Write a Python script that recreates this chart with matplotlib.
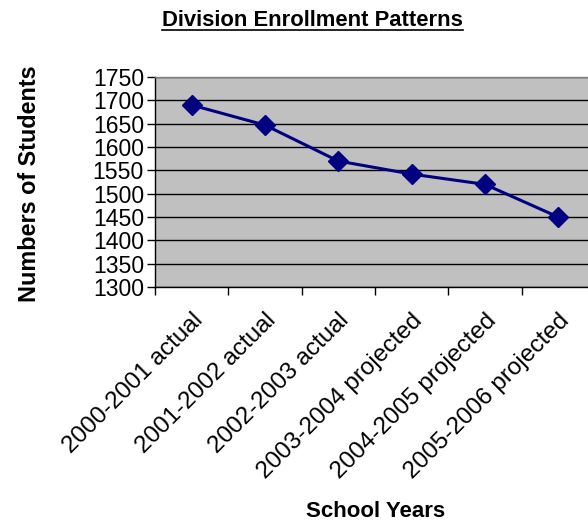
import matplotlib
matplotlib.use('Agg')
import matplotlib.pyplot as plt
from matplotlib.lines import Line2D
import numpy as np

plt.rcParams['font.family'] = ['Liberation Sans', 'DejaVu Sans']

# Dados
anos = ['2000-2001 actual', '2001-2002 actual', '2002-2003 actual',
        '2003-2004 projected', '2004-2005 projected', '2005-2006 projected']
alunos = [1690, 1647, 1570, 1542, 1520, 1450]
y_ticks = [1300, 1350, 1400, 1450, 1500, 1550, 1600, 1650, 1700, 1750]

fig = plt.figure(figsize=(5.88, 5.25), dpi=100)
ax = fig.add_axes([0.2636, 0.4533, 0.748, 0.40])
ax.set_facecolor('#C0C0C0')

x = np.arange(len(anos))
ax.plot(x, alunos, color='#000080', lw=2.2, marker='D', ms=10, zorder=3)

ax.set_xlim(-0.5, len(anos) - 0.5)
ax.set_ylim(1300, 1750)
ax.set_yticks(y_ticks)
ax.set_yticklabels([str(v) for v in y_ticks], fontsize=16.6)
ax.yaxis.grid(True, color='black', lw=1)
ax.set_axisbelow(True)

# ticks nas fronteiras das categorias, rotulos no centro
ax.set_xticks(np.arange(-0.5, len(anos), 1.0))
ax.set_xticklabels([])
ax.set_xticks(x, minor=True)
ax.set_xticklabels(anos, minor=True, rotation=45, ha='right', va='top',
                   rotation_mode='anchor', fontsize=17.5)
ax.tick_params(axis='x', which='minor', length=0, pad=16)
ax.tick_params(axis='x', which='major', length=6, width=1, direction='out')
ax.tick_params(axis='y', length=6, width=1, direction='out', pad=2)

for s in ['left', 'bottom']:
    ax.spines[s].set_color('black')
    ax.spines[s].set_linewidth(1)
for s in ['top', 'right']:
    ax.spines[s].set_color('#808080')
    ax.spines[s].set_linewidth(1)

titulo = fig.text(0.531, 0.96, 'Division Enrollment Patterns', ha='center',
                  va='center', fontsize=15.8, fontweight='bold')
fig.text(0.638, 0.025, 'School Years', ha='center', va='center',
         fontsize=16, fontweight='bold')
fig.text(0.051, 0.651, 'Numbers of Students', ha='center', va='center',
         rotation=90, fontsize=16.8, fontweight='bold')

# sublinhado do titulo
fig.canvas.draw()
bb = titulo.get_window_extent().transformed(fig.transFigure.inverted())
fig.add_artist(Line2D([bb.x0, bb.x1], [bb.y0 + 0.002, bb.y0 + 0.002],
                      transform=fig.transFigure, color='black', lw=1.2))

plt.savefig('out.png', dpi=100)
